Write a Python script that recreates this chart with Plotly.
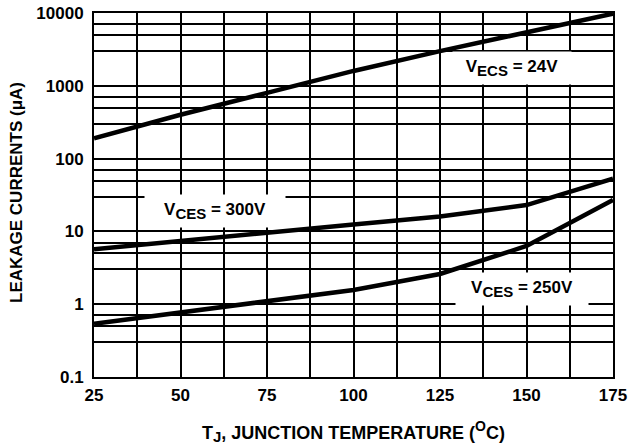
import plotly.graph_objects as go

temps = [25, 50, 75, 100, 125, 150, 175]
i_ecs_24v = [190, 400, 800, 1600, 3000, 5500, 9800]
i_ces_300v = [5.7, 7.3, 9.5, 12.4, 16, 23, 53]
temps_250 = [25, 50, 75, 100, 125, 150, 162.5, 175]
i_ces_250v = [0.54, 0.77, 1.1, 1.57, 2.6, 6.3, 13, 27]

x_tickvals = [25, 37.5, 50, 62.5, 75, 87.5, 100, 112.5, 125, 137.5, 150, 162.5, 175]
x_ticktext = ["25", "", "50", "", "75", "", "100", "", "125", "", "150", "", "175"]
y_tickvals = [0.1, 0.3, 0.5, 0.7, 1, 3, 5, 7, 10, 30, 50, 70, 100, 300, 500, 700,
              1000, 3000, 5000, 7000, 10000]
y_ticktext = ["0.1", "", "", "", "1", "", "", "", "10", "", "", "", "100", "", "", "",
              "1000", "", "", "", "10000"]

FONT = "Liberation Sans, Arial, sans-serif"

fig = go.Figure()
for xs, ys in [(temps, i_ecs_24v), (temps, i_ces_300v), (temps_250, i_ces_250v)]:
    fig.add_trace(go.Scatter(x=xs, y=ys, mode="lines",
                             line=dict(color="black", width=4.5),
                             showlegend=False, hoverinfo="skip"))

ann_font = dict(family=FONT, size=17, color="black", weight="bold")
SUB = "<sub><span style='font-size:15px'>{}</span></sub>"
for xx, yy, txt, w in [(145.9, 3.249, "V" + SUB.format("ECS") + " = 24V", 116),
                       (60.0, 1.284, "V" + SUB.format("CES") + " = 300V", 138),
                       (148.6, 0.206, "V" + SUB.format("CES") + " = 250V", 130)]:
    fig.add_annotation(x=xx, y=yy, xref="x", yref="y", text=txt, showarrow=False,
                       font=ann_font, bgcolor="white", width=w, height=30,
                       align="center", valign="middle")

fig.update_layout(
    width=629, height=447,
    margin=dict(l=94, r=16, t=13, b=70),
    paper_bgcolor="white", plot_bgcolor="white",
    font=dict(family=FONT, color="black"),
)
# axis titles placed as paper annotations (pixel positions converted to paper fraction)
PL, PR, PT, PB = 94, 613, 13, 377
def px_to_paper_x(px):
    return (px - PL) / (PR - PL)
def px_to_paper_y(py):
    return (PB - py) / (PB - PT)

fig.add_annotation(x=px_to_paper_x(353), y=px_to_paper_y(432), xref="paper", yref="paper",
                   text="T<sub><span style='font-size:15px'>J</span></sub>, JUNCTION TEMPERATURE (<sup><span style='font-size:14px'>O</span></sup>C)",
                   showarrow=False, font=dict(family=FONT, size=18, color="black", weight="bold"),
                   xanchor="center", yanchor="middle")
fig.add_annotation(x=px_to_paper_x(16), y=px_to_paper_y(193), xref="paper", yref="paper",
                   text="LEAKAGE CURRENTS (\u03bcA)", textangle=-90,
                   showarrow=False, font=dict(family=FONT, size=17, color="black", weight="bold"),
                   xanchor="center", yanchor="middle")

fig.update_xaxes(
    range=[25, 175], tickvals=x_tickvals, ticktext=x_ticktext,
    showgrid=True, gridcolor="black", gridwidth=2,
    showline=True, linecolor="black", linewidth=2, mirror=True,
    ticks="", zeroline=False, automargin=False,
    tickfont=dict(family=FONT, size=17, weight="bold"),
    ticklabelstandoff=2,
)
fig.update_yaxes(
    type="log", range=[-1, 4], tickvals=y_tickvals, ticktext=y_ticktext,
    showgrid=True, gridcolor="black", gridwidth=2,
    showline=True, linecolor="black", linewidth=2, mirror=True,
    ticks="", zeroline=False, automargin=False,
    tickfont=dict(family=FONT, size=17, weight="bold"),
    ticklabelstandoff=5,
)

fig.write_html("out.html", config={"displayModeBar": False, "staticPlot": True},
               post_script="document.body.style.margin='0';document.body.style.overflow='hidden';")
